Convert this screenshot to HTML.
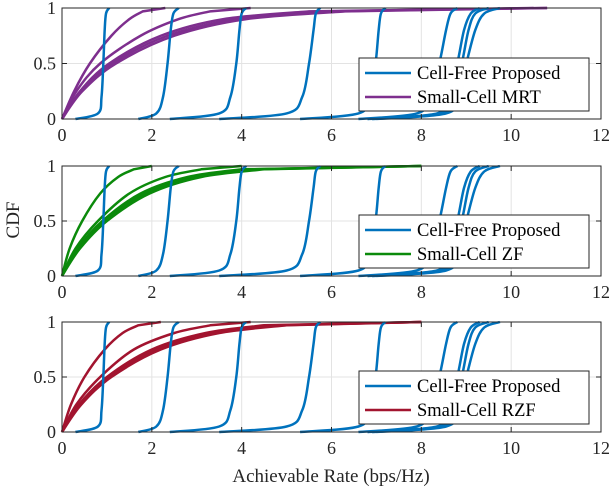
<!DOCTYPE html>
<html><head><meta charset="utf-8"><style>
html,body{margin:0;padding:0;background:#fff}
svg{display:block;font-family:"Liberation Serif",serif}
</style></head><body>
<svg id="chart" width="612" height="490" viewBox="0 0 612 490" xmlns="http://www.w3.org/2000/svg">
<text x="0" y="0" transform="translate(19,220) rotate(-90)" text-anchor="middle" font-size="19" fill="#262626">CDF</text>
<text x="331" y="482" text-anchor="middle" font-size="19" fill="#262626">Achievable Rate (bps/Hz)</text>
</svg>
<script>
// CDF probability levels shared by all curves
const pLevels = [0, 0.05, 0.2, 0.5, 0.8, 0.95, 1];
// Cell-free proposed: rate (x) at each probability level, per curve
const cellFree = [
  [0.3,0.8,0.88,0.92,0.95,0.98,1.05],
  [1.7,2.1,2.25,2.35,2.42,2.48,2.6],
  [2.4,3.5,3.75,3.88,3.95,4.0,4.1],
  [3.5,5.0,5.35,5.5,5.6,5.65,5.75],
  [5.3,6.6,6.85,6.98,7.05,7.1,7.2],
  [6.6,7.9,8.2,8.4,8.55,8.65,8.8],
  [6.8,8.35,8.6,8.8,8.95,9.1,9.3],
  [6.9,8.45,8.7,8.9,9.05,9.2,9.5],
  [7.0,8.55,8.8,9.0,9.2,9.4,9.75]
];
// Small-cell probability levels
const pSmall = [0, 0.25, 0.5, 0.75, 0.9, 0.97, 1];
const smallMRT = [
  [0,0.27,0.62,1.1,1.5,1.8,2.3],
  [0,0.32,0.85,1.75,2.6,3.3,4.2],
  [0,0.4,1.05,2.2,3.6,5.5,10.8],
  [0,0.42,1.12,2.35,3.9,6.0,10.5],
  [0,0.45,1.2,2.5,4.1,6.3,10.8]
];
const smallZF = [
  [0,0.17,0.45,0.85,1.25,1.6,2.0],
  [0,0.3,0.8,1.5,2.3,3.1,4.0],
  [0,0.35,0.9,1.75,2.8,4.0,8.0],
  [0,0.37,0.95,1.85,3.0,4.3,8.0],
  [0,0.4,1.0,1.95,3.1,4.5,8.0]
];
const smallRZF = [
  [0,0.2,0.5,0.95,1.35,1.7,2.2],
  [0,0.32,0.85,1.6,2.5,3.3,4.2],
  [0,0.38,1.0,2.0,3.2,4.5,8.0],
  [0,0.4,1.05,2.1,3.4,4.8,8.0],
  [0,0.43,1.1,2.2,3.5,5.0,8.0]
];
const xTicks = [0,2,4,6,8,10,12];
const yTicks = [0,0.5,1];
const yTickLabels = ["0","0.5","1"];

const NS = "http://www.w3.org/2000/svg";
const svg = document.getElementById("chart");
const X0 = 62, X1 = 601;
const panels = [
  {top:8, bottom:119, data:smallMRT, color:"#7E2F8E", label:"Small-Cell MRT", name:"mrt", ly:58},
  {top:166, bottom:276, data:smallZF, color:"#0B8A0B", label:"Small-Cell ZF", name:"zf", ly:215},
  {top:322, bottom:432, data:smallRZF, color:"#A2142F", label:"Small-Cell RZF", name:"rzf", ly:371}
];
function mk(tag, attrs, parent){ const e=document.createElementNS(NS,tag); for(const k in attrs) e.setAttribute(k,attrs[k]); (parent||svg).appendChild(e); return e; }
function smoothPath(pts){
  let d = "M"+pts[0][0].toFixed(2)+","+pts[0][1].toFixed(2);
  for(let i=0;i<pts.length-1;i++){
    const p0=pts[Math.max(0,i-1)], p1=pts[i], p2=pts[i+1], p3=pts[Math.min(pts.length-1,i+2)];
    const c1=[p1[0]+(p2[0]-p0[0])/6, p1[1]+(p2[1]-p0[1])/6];
    const c2=[p2[0]-(p3[0]-p1[0])/6, p2[1]-(p3[1]-p1[1])/6];
    d+=" C"+c1[0].toFixed(2)+","+c1[1].toFixed(2)+" "+c2[0].toFixed(2)+","+c2[1].toFixed(2)+" "+p2[0].toFixed(2)+","+p2[1].toFixed(2);
  }
  return d;
}
panels.forEach((P, pi) => {
  const xs = v => X0 + (X1 - X0) * v / 12;
  const ys = v => P.bottom - (P.bottom - P.top) * v;
  const g = mk("g", {});
  
  
  xTicks.forEach(t => { if(t>0 && t<12){ const l=mk("line",{x1:xs(t),x2:xs(t),y1:P.top,y2:P.bottom,stroke:"#e3e3e3","stroke-width":1},g);
      }});
  const gl = mk("line",{x1:X0,x2:X1,y1:ys(0.5),y2:ys(0.5),stroke:"#e3e3e3","stroke-width":1},g);
   
  P.data.forEach((c, ci) => {
    const pts = c.map((x,i)=>[xs(x), ys(pSmall[i])]);
    const pth = mk("path",{d:smoothPath(pts.slice(0,-1))+" L"+pts[pts.length-1][0]+","+pts[pts.length-1][1],fill:"none",stroke:P.color,"stroke-width":2.5},g);
    
    
  });
  cellFree.forEach((c, ci) => {
    const pts = c.map((x,i)=>[xs(x), ys(pLevels[i])]);
    const pth = mk("path",{d:smoothPath(pts),fill:"none",stroke:"#0072BD","stroke-width":2.5},g);
    
    
  });
  const box = mk("rect",{x:X0,y:P.top,width:X1-X0,height:P.bottom-P.top,fill:"none",stroke:"#262626","stroke-width":1},g);
   
  xTicks.forEach(t => {
    mk("line",{x1:xs(t),x2:xs(t),y1:P.bottom,y2:P.bottom-5,stroke:"#262626"},g);
    mk("line",{x1:xs(t),x2:xs(t),y1:P.top,y2:P.top+5,stroke:"#262626"},g);
    const tx = mk("text",{x:xs(t),y:P.bottom+22,"text-anchor":"middle","font-size":18,fill:"#262626"},g);
    tx.textContent = t;
     
  });
  yTicks.forEach((t,i) => {
    mk("line",{x1:X0,x2:X0+5,y1:ys(t),y2:ys(t),stroke:"#262626"},g);
    mk("line",{x1:X1,x2:X1-5,y1:ys(t),y2:ys(t),stroke:"#262626"},g);
    const tx = mk("text",{x:X0-6,y:ys(t)+6,"text-anchor":"end","font-size":18,fill:"#262626"},g);
    tx.textContent = yTickLabels[i];
     
  });
  const lg = mk("g",{},g);
   
  mk("rect",{x:359,y:P.ly,width:230,height:53,fill:"#fff",stroke:"#262626","stroke-width":1},lg);
  const items = [["Cell-Free Proposed","#0072BD"],[P.label,P.color]];
  items.forEach((it,k)=>{
    const yy = P.ly + 15 + k*24;
    mk("line",{x1:365,x2:411,y1:yy,y2:yy,stroke:it[1],"stroke-width":2.5},lg);
    const tx = mk("text",{x:417,y:yy+6,"font-size":18.5,fill:"#000"},lg);
    tx.textContent = it[0];
     
  });
});
</script>
</body></html>
